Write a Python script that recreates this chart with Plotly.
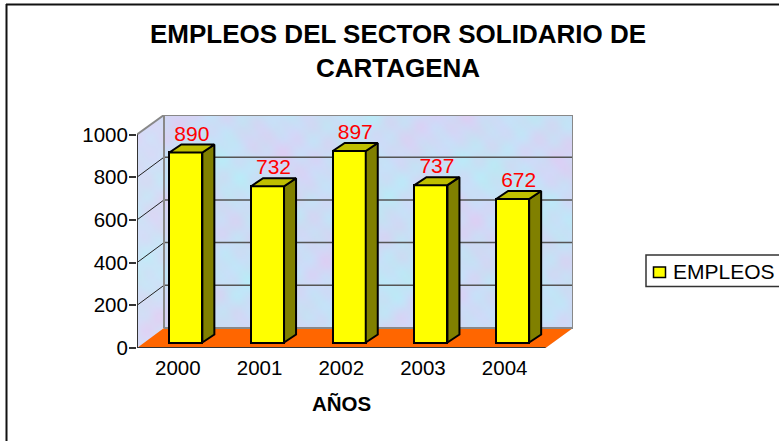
import base64, math, struct, zlib
import plotly.graph_objects as go

# ---- data ----
YEARS = ["2000", "2001", "2002", "2003", "2004"]
EMPLEOS = [890, 732, 897, 737, 672]
Y_TICKS = [0, 200, 400, 600, 800, 1000]
TITLE = "EMPLEOS DEL SECTOR SOLIDARIO DE<br>CARTAGENA"
X_TITLE = "AÑOS"
SERIES = "EMPLEOS"

FONT = "Liberation Sans"
W, H = 779, 441
L, R, T, B = 137, 573, 115, 348          # plot box in pixels
PX_X = 81.7                              # pixels per category
PX_Y = 0.2135                            # pixels per unit
X0 = -0.5
X1 = X0 + (R - L) / PX_X
Y1 = (B - T) / PX_Y
DX = 27 / PX_X                           # wall depth
DY = 20 / PX_Y
BAR_W = 33 / PX_X
BAR_SHIFT = 8 / PX_X
BAR_BASE = 5.5 / PX_Y
D_X = 12 / PX_X                          # bar depth
D_Y = 8 / PX_Y
XF = X0 + len(YEARS)                     # right end of the front axis


def px(x):
    return (x - L) / (R - L)


def py(y):
    return (B - y) / (B - T)


def texture(w=218, h=117):
    """Mottled blue and lilac wall, an ornament only, carrying no data."""
    rows = bytearray()
    for j in range(h):
        rows.append(0)
        for i in range(w):
            a = (math.sin(i * .09 + 1.3 * math.sin(j * .07)) + math.sin(j * .13 + 1.7 * math.sin(i * .05))
                 + .6 * math.sin(i * .31 + j * .23) + .5 * math.sin(i * .47 - j * .41)) / 3.1
            b = (math.sin(i * .17 - j * .11 + 2) + .7 * math.sin(i * .37 + j * .43 + 1)) / 1.7
            rows += bytes((int(203 + 16 * a - 3 * b), int(222 - 13 * a + 3 * b), int(246 + 3 * b)))
    def chunk(t, d):
        return struct.pack(">I", len(d)) + t + d + struct.pack(">I", zlib.crc32(t + d))
    png = (b"\x89PNG\r\n\x1a\n" + chunk(b"IHDR", struct.pack(">IIBBBBB", w, h, 8, 2, 0, 0, 0))
           + chunk(b"IDAT", zlib.compress(bytes(rows))) + chunk(b"IEND", b""))
    return "data:image/png;base64," + base64.b64encode(png).decode()


def poly(pts, fill, line=None, width=0):
    path = "M" + "L".join(f"{x},{y}" for x, y in pts) + "Z"
    return dict(type="path", path=path, fillcolor=fill, layer="below",
                line=dict(color=line or "rgba(0,0,0,0)", width=width))


def seg(x0, y0, x1, y1, color, width):
    return dict(type="line", x0=x0, y0=y0, x1=x1, y1=y1, layer="below", line=dict(color=color, width=width))


def page_rect(x0, y0, x1, y1, fill, line, width):
    return dict(type="rect", xref="paper", yref="paper", x0=px(x0), x1=px(x1), y0=py(y1), y1=py(y0),
                fillcolor=fill, line=dict(color=line, width=width))


def page_line(x0, y0, x1, y1, color, width):
    return dict(type="line", xref="paper", yref="paper", x0=px(x0), x1=px(x1), y0=py(y0), y1=py(y1),
                line=dict(color=color, width=width))


shapes = [
    poly([(X0, 0), (X0 + DX, DY), (X0 + DX, Y1), (X0, Y_TICKS[-1])], "rgba(255,255,255,.1)"),
    poly([(X0, Y_TICKS[-1]), (X0, Y1), (X0 + DX, Y1)], "white"),
    poly([(XF, 0), (X1, DY), (X1, 0)], "white"),
    poly([(X0, 0), (X0 + DX, DY), (X1, DY), (XF, 0)], "#FF6600"),
]
for v in Y_TICKS[1:-1]:
    shapes.append(seg(X0 + DX, v + DY, X1, v + DY, "#555555", 1.5))
    shapes.append(seg(X0, v, X0 + DX, v + DY, "#222222", 1))
shapes += [
    seg(X0 + DX, DY, X1, DY, "#888888", 2),
    seg(X0 + DX, DY, X0 + DX, Y1, "#888888", 2),
    seg(X0 + DX, Y1, X1, Y1, "#888888", 2),
    seg(X1, DY, X1, Y1, "#888888", 2),
    seg(X0, Y_TICKS[-1], X0 + DX, Y1, "#888888", 2),
    # page frame
    page_line(6, 4.5, W, 4.5, "#111111", 2),
    page_line(6.5, 4, 6.5, H, "#111111", 2),
    # legend
    page_rect(646, 255, W + 5, 286.5, "white", "#333333", 1.5),
    page_rect(653.5, 267, 665.5, 277.5, "#FFFF00", "black", 1.5),
]

fig = go.Figure()
xs = [i + BAR_SHIFT for i in range(len(YEARS))]
fig.add_trace(go.Bar(
    x=xs, y=EMPLEOS, base=[BAR_BASE] * len(YEARS), width=BAR_W, name=SERIES,
    marker=dict(color="#FFFF00", line=dict(color="black", width=2)), showlegend=False,
))
for x, v in zip(xs, EMPLEOS):
    l, r = x - BAR_W / 2, x + BAR_W / 2
    top = v + BAR_BASE
    fig.add_trace(go.Scatter(
        x=[r, r + D_X, r + D_X, r, r], y=[BAR_BASE, BAR_BASE + D_Y, top + D_Y, top, BAR_BASE],
        fill="toself", fillcolor="#808000", mode="lines", line=dict(color="black", width=2),
        showlegend=False, hoverinfo="skip"))
    fig.add_trace(go.Scatter(
        x=[l, r, r + D_X, l + D_X, l], y=[top, top, top + D_Y, top + D_Y, top],
        fill="toself", fillcolor="#BFBF00", mode="lines", line=dict(color="black", width=2),
        showlegend=False, hoverinfo="skip"))

# data labels
fig.add_trace(go.Scatter(
    x=[x + D_X / 2 for x in xs], y=[v + BAR_BASE + D_Y - 1.5 / PX_Y for v in EMPLEOS],
    text=[str(v) for v in EMPLEOS], mode="text", textposition="top center",
    textfont=dict(family=FONT, size=21, color="#FF0000"), showlegend=False, hoverinfo="skip"))

# front axes
fig.add_trace(go.Scatter(x=[X0, X0], y=[0, Y_TICKS[-1]], mode="lines", line=dict(color="#333333", width=2),
                         showlegend=False, hoverinfo="skip", cliponaxis=False))
fig.add_trace(go.Scatter(x=[X0, XF], y=[0, 0], mode="lines", line=dict(color="#333333", width=2),
                         showlegend=False, hoverinfo="skip", cliponaxis=False))
tx, ty = [], []
for i in range(len(YEARS) + 1):
    tx += [X0 + i, X0 + i, None]
    ty += [0, -5 / PX_Y, None]
fig.add_trace(go.Scatter(x=tx, y=ty, mode="lines", line=dict(color="#333333", width=1.5),
                         showlegend=False, hoverinfo="skip", cliponaxis=False))

fig.update_layout(
    width=W, height=H, autosize=False, paper_bgcolor="white", plot_bgcolor="rgba(0,0,0,0)",
    margin=dict(l=L, r=W - R, t=T, b=H - B, autoexpand=False),
    font=dict(family=FONT, color="black"), shapes=shapes, bargap=0,
    title=dict(text=f"<b>{TITLE}</b>", x=398 / W, xanchor="center", y=1 - 43 / H, yanchor="top",
               font=dict(family=FONT, size=26, color="black")),
    xaxis=dict(range=[X0, X1], tickmode="array", tickvals=list(range(len(YEARS))), ticktext=YEARS,
               showgrid=False, zeroline=False, showline=False, ticks="", ticklen=0, ticklabelstandoff=5,
               tickfont=dict(family=FONT, size=20.5, color="black"), fixedrange=True),
    yaxis=dict(range=[0, Y1], tickmode="array", tickvals=Y_TICKS, showgrid=False, zeroline=False,
               showline=False, ticks="outside", ticklen=7, tickcolor="#333333", tickwidth=2,
               ticklabelstandoff=-3,
               tickfont=dict(family=FONT, size=20.5, color="black"), fixedrange=True),
    showlegend=False,
    images=[dict(source=texture(), xref="paper", yref="paper", x=0, y=1, sizex=1, sizey=1,
                 sizing="stretch", xanchor="left", yanchor="top", layer="below")],
    annotations=[
        dict(text=f"<b>{X_TITLE}</b>", x=px(341), y=py(403.5), xref="paper", yref="paper", xanchor="center",
             yanchor="middle", showarrow=False, font=dict(family=FONT, size=20.5, color="black")),
        dict(text=SERIES, x=px(671), y=py(271), xref="paper", yref="paper", xanchor="left",
             yanchor="middle", showarrow=False, font=dict(family=FONT, size=21, color="black")),
    ],
)
fig.write_html("out.html", config=dict(displayModeBar=False),
               post_script="document.body.style.margin='0';document.body.style.overflow='hidden';")
